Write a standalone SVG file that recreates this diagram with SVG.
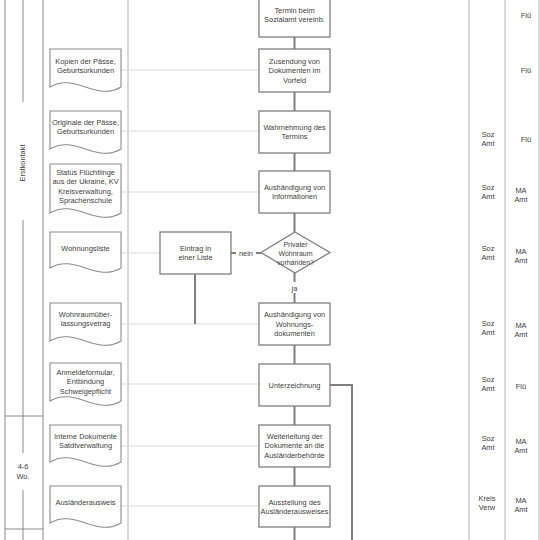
<svg xmlns="http://www.w3.org/2000/svg" width="540" height="540" viewBox="0 0 540 540">
<style>
.t{font-family:"Liberation Sans",Arial,sans-serif;font-size:7.4px;fill:#404040;text-anchor:middle}
.box{fill:#fff;stroke:#7f7f7f;stroke-width:1.3}
.doc{fill:#fff;stroke:#8c8c8c;stroke-width:1.1}
.flow{stroke:#7f7f7f;stroke-width:2;fill:none}
.link{stroke:#d9d9d9;stroke-width:1.2;fill:none}
.lane{stroke:#cfcfcf;stroke-width:1.6}
.lft{stroke:#8a8a8a;stroke-width:1}
</style>
<rect width="540" height="540" fill="#fff"/>
<g id="lanes">
<line class="lft" x1="5" y1="0" x2="5" y2="540"/>
<line class="lft" x1="43" y1="0" x2="43" y2="540" stroke="#a6a6a6"/>
<line class="lane" x1="128" y1="0" x2="128" y2="540" stroke="#dadada"/>
<line class="lane" x1="469" y1="0" x2="469" y2="540"/>
<line class="lane" x1="505" y1="0" x2="505" y2="540"/>
<line class="lane" x1="539" y1="0" x2="539" y2="540"/>
<line class="lft" x1="23" y1="0" x2="23" y2="102"/>
<line class="lft" x1="23" y1="220" x2="23" y2="453"/>
<line class="lft" x1="23" y1="490" x2="23" y2="540"/>
<line class="lft" x1="5" y1="416" x2="43" y2="416"/>
<line class="lft" x1="5" y1="529" x2="43" y2="529"/>
<text class="t" transform="translate(25,163) rotate(-90)">Erstkontakt</text>
<text class="t" x="23" y="468.5">4-6</text>
<text class="t" x="23" y="478.5">Wo.</text>
</g>
<g id="connectors">
<line class="link" x1="121" y1="70" x2="259" y2="70"/>
<line class="link" x1="121" y1="131" x2="259" y2="131"/>
<line class="link" x1="121" y1="192" x2="259" y2="192"/>
<line class="link" x1="121" y1="253" x2="160" y2="253"/>
<line class="link" x1="121" y1="324" x2="259" y2="324"/>
<line class="link" x1="121" y1="384" x2="259" y2="384"/>
<line class="link" x1="121" y1="446" x2="259" y2="446"/>
<line class="link" x1="121" y1="506" x2="259" y2="506"/>
<path class="flow" d="M294.5 37V49M294.5 92V111M294.5 153V171M294.5 213V232M294.5 273V303M294.5 345V364M294.5 406V425M294.5 467V486M294.5 527V540"/>
<path class="flow" d="M231 253H261"/>
<path class="flow" d="M195 274V324"/>
<path class="flow" d="M330 385H352V540"/>
<rect x="236" y="248" width="20" height="10" fill="#fff"/>
<text class="t" x="246" y="255.5">nein</text>
<rect x="288" y="282" width="13" height="11" fill="#fff"/>
<text class="t" x="294.5" y="290.5">ja</text>
</g>
<g id="d1"><path class="doc" d="M50 87V49H121V87C96 102 75 72 50 87Z"/><text class="t" x="85.5" y="63.5">Kopien der Pässe,</text><text class="t" x="85.5" y="72.5">Geburtsurkunden</text></g>
<g id="d2"><path class="doc" d="M50 149V111H121V149C96 164 75 134 50 149Z"/><text class="t" x="85.5" y="124.5">Originale der Pässe,</text><text class="t" x="85.5" y="133.5">Geburtsurkunden</text></g>
<g id="d3"><path class="doc" d="M50 213V164H121V213C96 228 75 198 50 213Z"/><text class="t" x="85.5" y="174.5">Status Flüchtlinge</text><text class="t" x="85.5" y="184">aus der Ukraine, KV</text><text class="t" x="85.5" y="193.5">Kreisverwaltung,</text><text class="t" x="85.5" y="203">Sprachenschule</text></g>
<g id="d4"><path class="doc" d="M50 268V232H121V268C96 283 75 253 50 268Z"/><text class="t" x="85.5" y="250.5">Wohnungsliste</text></g>
<g id="d5"><path class="doc" d="M50 341V303H121V341C96 356 75 326 50 341Z"/><text class="t" x="85.5" y="316.5">Wohnraumüber-</text><text class="t" x="85.5" y="326">lassungsvetrag</text></g>
<g id="d6"><path class="doc" d="M50 401V363H121V401C96 416 75 386 50 401Z"/><text class="t" x="85.5" y="374.5">Anmeldeformular,</text><text class="t" x="85.5" y="384">Entbindung</text><text class="t" x="85.5" y="393.5">Schweigepflicht</text></g>
<g id="d7"><path class="doc" d="M50 462V425H121V462C96 477 75 447 50 462Z"/><text class="t" x="85.5" y="438.5">Interne Dokumente</text><text class="t" x="85.5" y="447.5">Satdtverwaltung</text></g>
<g id="d8"><path class="doc" d="M50 523V486H121V523C96 538 75 508 50 523Z"/><text class="t" x="85.5" y="504.5">Ausländerausweis</text></g>
<g id="p1"><rect class="box" x="259" y="-6" width="71" height="43"/><text class="t" x="294.5" y="12.5">Termin beim</text><text class="t" x="294.5" y="22">Sozialamt vereinb.</text></g>
<g id="p2"><rect class="box" x="259" y="49" width="71" height="43"/><text class="t" x="294.5" y="63.5">Zusendung von</text><text class="t" x="294.5" y="73">Dokumenten im</text><text class="t" x="294.5" y="82.5">Vorfeld</text></g>
<g id="p3"><rect class="box" x="259" y="111" width="71" height="42"/><text class="t" x="294.5" y="129.5">Wahrnehmung des</text><text class="t" x="294.5" y="139">Termins</text></g>
<g id="p4"><rect class="box" x="259" y="171" width="71" height="42"/><text class="t" x="294.5" y="189.5">Aushändigung von</text><text class="t" x="294.5" y="199">Informationen</text></g>
<g id="q1"><polygon class="box" points="295,232 330,252.5 295,273 261,252.5"/><text class="t" x="295.5" y="246.5" style="font-size:7px">Privater</text><text class="t" x="295.5" y="255.5" style="font-size:7px">Wohnraum</text><text class="t" x="295.5" y="264.5" style="font-size:7px">vorhanden?</text></g>
<g id="p5"><rect class="box" x="160" y="232" width="71" height="42"/><text class="t" x="195.5" y="250.5">Eintrag in</text><text class="t" x="195.5" y="260">einer Liste</text></g>
<g id="p6"><rect class="box" x="259" y="303" width="71" height="42"/><text class="t" x="294.5" y="317">Aushändigung von</text><text class="t" x="294.5" y="326.5">Wohnungs-</text><text class="t" x="294.5" y="336">dokumenten</text></g>
<g id="p7"><rect class="box" x="259" y="364" width="71" height="42"/><text class="t" x="294.5" y="387.5">Unterzeichnung</text></g>
<g id="p8"><rect class="box" x="259" y="425" width="71" height="42"/><text class="t" x="294.5" y="438.5">Weiterleitung der</text><text class="t" x="294.5" y="448">Dokumente an die</text><text class="t" x="294.5" y="457.5">Ausländerbehörde</text></g>
<g id="p9"><rect class="box" x="259" y="486" width="71" height="41"/><text class="t" x="294.5" y="504.5">Ausstellung des</text><text class="t" x="294.5" y="514">Ausländerausweises</text></g>
<g id="roles">
<text class="t" x="526" y="17.5">Flü</text>
<text class="t" x="526" y="72.5">Flü</text>
<text class="t" x="488" y="136.5">Soz</text><text class="t" x="488" y="146">Amt</text><text class="t" x="526" y="141.5">Flü</text>
<text class="t" x="488" y="189.5">Soz</text><text class="t" x="488" y="199">Amt</text><text class="t" x="521" y="192.5">MA</text><text class="t" x="521" y="202">Amt</text>
<text class="t" x="488" y="250.5">Soz</text><text class="t" x="488" y="260">Amt</text><text class="t" x="521" y="253.5">MA</text><text class="t" x="521" y="263">Amt</text>
<text class="t" x="488" y="325.5">Soz</text><text class="t" x="488" y="335">Amt</text><text class="t" x="521" y="327.5">MA</text><text class="t" x="521" y="337">Amt</text>
<text class="t" x="488" y="381.5">Soz</text><text class="t" x="488" y="391">Amt</text><text class="t" x="521" y="388.5">Flü</text>
<text class="t" x="488" y="440.5">Soz</text><text class="t" x="488" y="450">Amt</text><text class="t" x="521" y="443.5">MA</text><text class="t" x="521" y="453">Amt</text>
<text class="t" x="487" y="500.5">Kreis</text><text class="t" x="487" y="510">Verw</text><text class="t" x="521" y="502.5">MA</text><text class="t" x="521" y="512">Amt</text>
</g>
</svg>
